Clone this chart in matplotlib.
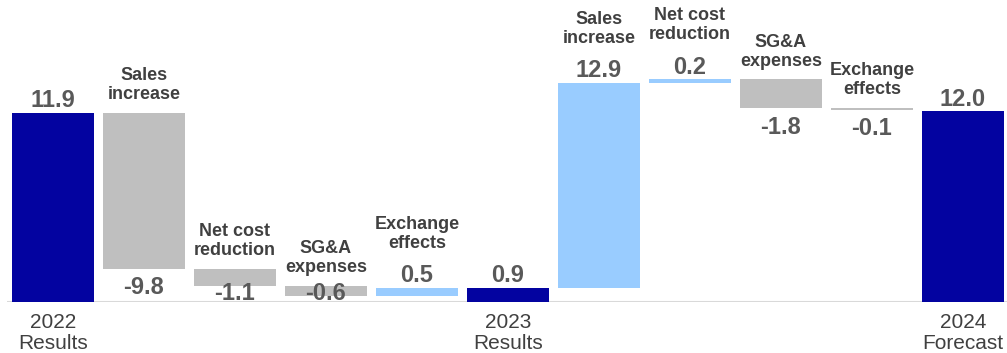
import matplotlib
matplotlib.use('Agg')
import matplotlib.pyplot as plt

categories = ['2022\nResults', 'Sales\nincrease', 'Net cost\nreduction', 'SG&A\nexpenses',
              'Exchange\neffects', '2023\nResults', 'Sales\nincrease', 'Net cost\nreduction',
              'SG&A\nexpenses', 'Exchange\neffects', '2024\nForecast']
values = [11.9, -9.8, -1.1, -0.6, 0.5, 0.9, 12.9, 0.2, -1.8, -0.1, 12.0]
is_total = [True, False, False, False, False, True, False, False, False, False, True]

dark_blue = '#0303A0'
gray = '#BFBFBF'
light_blue = '#99CCFF'

plt.rcParams['font.family'] = ['Liberation Sans', 'DejaVu Sans']

fig = plt.figure(figsize=(10.07, 3.53), dpi=100)
ax = fig.add_axes([7 / 1007, 51 / 353, 1000 / 1007, 302 / 353])

# waterfall bottoms / heights
bottoms, heights, colors = [], [], []
running = 0.0
for v, tot in zip(values, is_total):
    if tot:
        bottoms.append(0)
        heights.append(v)
        colors.append(dark_blue)
        running = v
    else:
        bottoms.append(running if v > 0 else running + v)
        heights.append(abs(v))
        colors.append(light_blue if v > 0 else gray)
        running += v

x = list(range(len(values)))
ax.bar(x, heights, bottom=bottoms, width=0.91, color=colors, edgecolor='none', zorder=2)

val_color = '#595959'
cat_color = '#404040'
for i, (v, tot, b, h) in enumerate(zip(values, is_total, bottoms, heights)):
    top = b + h
    if tot or v > 0:
        ax.annotate(f'{v:.1f}', (i, top), xytext=(0, 4), textcoords='offset points',
                    ha='center', va='baseline', fontsize=17, fontweight='bold',
                    color=val_color, zorder=3)
        if not tot:
            ax.annotate(categories[i], (i, top), xytext=(0, 26), textcoords='offset points',
                        ha='center', va='bottom', fontsize=13, fontweight='bold',
                        color=cat_color, linespacing=1.15, zorder=3)
    else:
        ax.annotate(categories[i], (i, top), xytext=(0, 7), textcoords='offset points',
                    ha='center', va='bottom', fontsize=13, fontweight='bold',
                    color=cat_color, linespacing=1.15, zorder=3)
        ybase = max(b - 1.6, 0.1)
        ax.text(i, ybase, f'{v:.1f}', ha='center', va='baseline', fontsize=17,
                fontweight='bold', color=val_color, zorder=3)

ax.axhline(0, color='#D9D9D9', linewidth=1.5, zorder=1)

ax.set_xlim(-0.505, 10.484)
ax.set_ylim(0, 19.0)
tick_pos = [i for i, t in enumerate(is_total) if t]
ax.set_xticks(tick_pos)
ax.set_xticklabels([categories[i] for i in tick_pos], fontsize=15, color=cat_color, linespacing=1.12)
ax.tick_params(axis='x', length=0, pad=8)
ax.set_yticks([])
for s in ax.spines.values():
    s.set_visible(False)

fig.savefig('out.png', dpi=100)
